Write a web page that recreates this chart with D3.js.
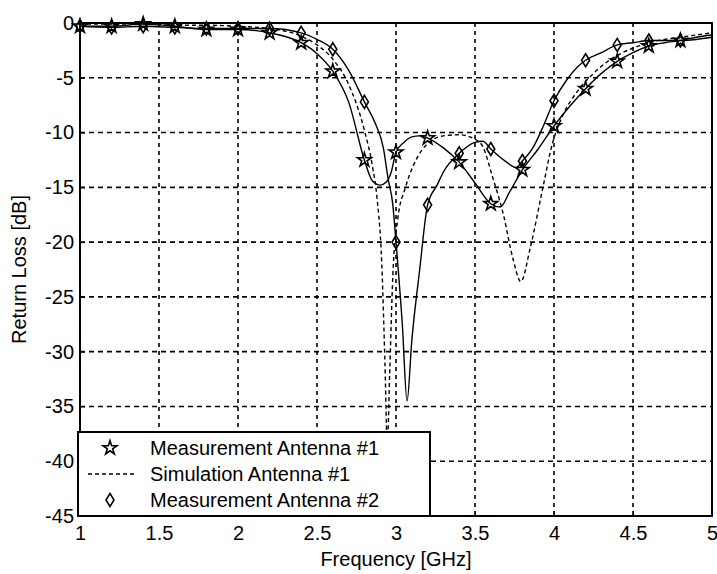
<!DOCTYPE html>
<html>
<head>
<meta charset="utf-8">
<script src="https://cdn.jsdelivr.net/npm/d3@7"></script>
<style>
  body { margin: 0; background: #fff; }
  text { font-family: Arial, "Liberation Sans", sans-serif; fill: #000; }
</style>
</head>
<body>
<svg id="chart" width="717" height="574"></svg>
<script>
// measured antenna #1 (solid, stars)
const meas1Freq = [1.0, 1.2, 1.4, 1.6, 1.8, 2.0, 2.2, 2.4, 2.5, 2.6, 2.7, 2.8, 2.85, 2.9, 2.94, 2.97, 3.0, 3.05, 3.1, 3.15, 3.2, 3.3, 3.4, 3.5, 3.6, 3.66, 3.72, 3.8, 3.9, 4.0, 4.1, 4.2, 4.3, 4.4, 4.5, 4.6, 4.7, 4.8, 4.9, 5.0];
const meas1Loss = [-0.3, -0.3, -0.1, -0.3, -0.6, -0.6, -0.9, -1.8, -2.8, -4.4, -7.2, -12.5, -14.4, -14.8, -14.5, -13.6, -11.8, -10.9, -10.4, -10.3, -10.5, -11.4, -12.7, -14.6, -16.5, -16.8, -15.4, -13.4, -11.5, -9.4, -7.6, -6.0, -4.6, -3.5, -2.7, -2.1, -1.8, -1.6, -1.3, -1.1];

// simulation antenna #1 (dashed)
const simFreq = [1.0, 1.2, 1.4, 1.6, 1.8, 2.0, 2.2, 2.4, 2.5, 2.6, 2.7, 2.8, 2.85, 2.88, 2.91, 2.93, 2.945, 2.96, 2.98, 3.01, 3.06, 3.13, 3.2, 3.3, 3.4, 3.5, 3.55, 3.61, 3.68, 3.74, 3.79, 3.85, 3.93, 3.99, 4.05, 4.15, 4.25, 4.35, 4.45, 4.6, 4.8, 5.0];
const simLoss = [-0.1, -0.1, -0.1, -0.2, -0.2, -0.3, -0.5, -1.2, -2.0, -3.3, -5.6, -9.8, -13.0, -16.0, -22.0, -31.0, -38.5, -32.0, -23.0, -18.0, -15.0, -12.4, -11.0, -10.3, -10.2, -10.6, -11.3, -14.0, -17.5, -21.5, -23.6, -20.5, -15.0, -11.0, -8.6, -6.2, -4.6, -3.4, -2.6, -1.8, -1.3, -0.9];

// measured antenna #2 (solid, diamonds)
const meas2Freq = [1.0, 1.2, 1.4, 1.6, 1.8, 2.0, 2.2, 2.4, 2.5, 2.6, 2.7, 2.8, 2.87, 2.92, 2.95, 2.98, 3.0, 3.04, 3.07, 3.1, 3.15, 3.2, 3.26, 3.3, 3.4, 3.5, 3.55, 3.6, 3.7, 3.76, 3.8, 3.87, 3.93, 4.0, 4.08, 4.15, 4.2, 4.3, 4.4, 4.5, 4.6, 4.7, 4.8, 4.9, 5.0];
const meas2Loss = [-0.3, -0.4, -0.3, -0.4, -0.5, -0.5, -0.5, -0.9, -1.5, -2.4, -4.3, -7.2, -9.2, -11.4, -14.2, -16.6, -20.0, -27.5, -34.5, -29.0, -22.5, -16.6, -14.8, -13.6, -11.9, -10.9, -10.8, -11.5, -12.7, -13.2, -12.6, -11.3, -9.5, -7.1, -5.2, -4.0, -3.4, -2.7, -2.0, -1.8, -1.6, -1.6, -1.6, -1.5, -1.3];

const xTicks = [1, 1.5, 2, 2.5, 3, 3.5, 4, 4.5, 5];
const yTicks = [0, -5, -10, -15, -20, -25, -30, -35, -40, -45];
const legendLabels = ["Measurement Antenna #1", "Simulation Antenna #1", "Measurement Antenna #2"];

const svg = d3.select("#chart");
const margin = {top: 23, right: 5, bottom: 58, left: 80};
const width = 717 - margin.left - margin.right;
const height = 574 - margin.top - margin.bottom;

const x = d3.scaleLinear().domain([1, 5]).range([0, width]);
const y = d3.scaleLinear().domain([-45, 0]).range([height, 0]);

const g = svg.append("g").attr("transform", `translate(${margin.left},${margin.top})`);

// grid
g.selectAll(".vgrid")
    .data(xTicks.slice(1, -1))
    .join("line")
    .attr("class", "vgrid")
    .attr("x1", d => x(d)).attr("x2", d => x(d))
    .attr("y1", 0).attr("y2", height)
    .style("stroke", "#000").style("stroke-width", 1.6)
    .style("stroke-dasharray", "4,4");
g.selectAll(".hgrid")
    .data(yTicks.slice(1, -1))
    .join("line")
    .attr("class", "hgrid")
    .attr("x1", 0).attr("x2", width)
    .attr("y1", d => y(d)).attr("y2", d => y(d))
    .style("stroke", "#000").style("stroke-width", 1.6)
    .style("stroke-dasharray", "5,4");

// axes with inward ticks
const xAxis = g.append("g").attr("transform", `translate(0,${height})`)
    .call(d3.axisBottom(x).tickValues(xTicks).tickFormat(d3.format("")).tickSizeInner(-5).tickSizeOuter(0).tickPadding(10));
const yAxis = g.append("g")
    .call(d3.axisLeft(y).tickValues(yTicks).tickFormat(d => d === 0 ? "0" : "-" + Math.abs(d)).tickSizeInner(-5).tickSizeOuter(0).tickPadding(6));
[xAxis, yAxis].forEach(a => {
    a.select(".domain").remove();
    a.selectAll("line").style("stroke", "#000");
    a.selectAll("text").style("font-size", "20px").style("font-family", "Arial, 'Liberation Sans', sans-serif");
});

// frame
g.append("rect")
    .attr("x", 0).attr("y", 0).attr("width", width).attr("height", height)
    .style("fill", "none").style("stroke", "#000").style("stroke-width", 2);

const line = d3.line()
    .x(d => x(d[0]))
    .y(d => y(d[1]))
    .curve(d3.curveMonotoneX);

const meas1 = d3.zip(meas1Freq, meas1Loss);
const sim = d3.zip(simFreq, simLoss);
const meas2 = d3.zip(meas2Freq, meas2Loss);

const plot = g.append("g");
plot.append("path").datum(sim).attr("d", line)
    .style("fill", "none").style("stroke", "#000").style("stroke-width", 1.4).style("stroke-dasharray", "4,3");
plot.append("path").datum(meas1).attr("d", line)
    .style("fill", "none").style("stroke", "#000").style("stroke-width", 1.4);
plot.append("path").datum(meas2).attr("d", line)
    .style("fill", "none").style("stroke", "#000").style("stroke-width", 1.4);

// markers every 0.2 GHz
const onStep = d => Math.abs(d[0] * 5 - Math.round(d[0] * 5)) < 1e-6 && d[0] < 4.95;
const star = d3.symbol().type(d3.symbolStar).size(60);
const diamond = "M0,-6.5L4,0L0,6.5L-4,0Z";

plot.selectAll(".star")
    .data(meas1.filter(onStep))
    .join("path")
    .attr("class", "star")
    .attr("d", star)
    .attr("transform", d => `translate(${x(d[0])},${y(d[1])})`)
    .style("fill", "none").style("stroke", "#000").style("stroke-width", 1.6);
plot.selectAll(".diamond")
    .data(meas2.filter(onStep))
    .join("path")
    .attr("class", "diamond")
    .attr("d", diamond)
    .attr("transform", d => `translate(${x(d[0])},${y(d[1])})`)
    .style("fill", "none").style("stroke", "#000").style("stroke-width", 1.6);

// legend
const legend = g.append("g").attr("transform", `translate(-2,${height - 84})`);
legend.append("rect")
    .attr("x", 0).attr("y", 0).attr("width", 352).attr("height", 84)
    .style("fill", "#fff").style("stroke", "#000").style("stroke-width", 2);
legendLabels.forEach((label, i) => {
    const ly = 16 + i * 26;
    if (i === 0) {
        legend.append("path").attr("d", star).attr("transform", `translate(32,${ly})`)
            .style("fill", "none").style("stroke", "#000").style("stroke-width", 1.6);
    } else if (i === 1) {
        legend.append("line").attr("x1", 10).attr("x2", 56).attr("y1", ly).attr("y2", ly)
            .style("stroke", "#000").style("stroke-width", 1.4).style("stroke-dasharray", "4,3");
    } else {
        legend.append("path").attr("d", diamond).attr("transform", `translate(32,${ly})`)
            .style("fill", "none").style("stroke", "#000").style("stroke-width", 1.6);
    }
    legend.append("text")
        .attr("x", 72).attr("y", ly)
        .attr("dy", "0.35em")
        .style("font-size", "20px")
        .text(label);
});

// axis titles
svg.append("text")
    .attr("x", margin.left + width / 2).attr("y", 566)
    .attr("text-anchor", "middle")
    .style("font-size", "20px")
    .text("Frequency [GHz]");
svg.append("text")
    .attr("transform", `translate(26,${margin.top + height / 2}) rotate(-90)`)
    .attr("text-anchor", "middle")
    .style("font-size", "20px")
    .text("Return Loss [dB]");
</script>
</body>
</html>
